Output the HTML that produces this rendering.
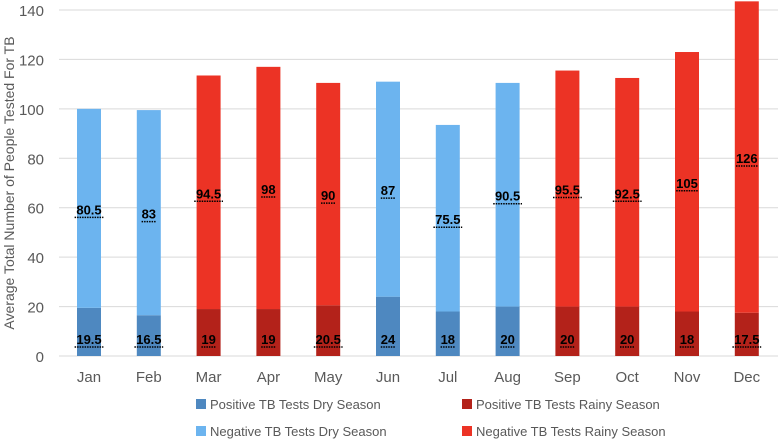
<!DOCTYPE html>
<html><head><meta charset="utf-8"><style>
body{margin:0;background:#fff;font-family:"Liberation Sans",sans-serif;}
svg text{font-family:"Liberation Sans",sans-serif;}
</style></head><body>
<svg id="chart" width="778" height="443"></svg>
<script>
const months=["Jan","Feb","Mar","Apr","May","Jun","Jul","Aug","Sep","Oct","Nov","Dec"];
const positive=[19.5,16.5,19,19,20.5,24,18,20,20,20,18,17.5];
const negative=[80.5,83,94.5,98,90,87,75.5,90.5,95.5,92.5,105,126];
const season=["dry","dry","rainy","rainy","rainy","dry","dry","dry","rainy","rainy","rainy","rainy"];
const yTicks=[0,20,40,60,80,100,120,140];
const NS="http://www.w3.org/2000/svg";
const svg=document.getElementById("chart");
const y0=356,yTop=10,yMax=140;
const y=v=>y0-(v/yMax)*(y0-yTop);
const x=i=>89+i*59.8;
const bw=24;
function el(t,a,p){const e=document.createElementNS(NS,t);for(const k in a)e.setAttribute(k,a[k]);(p||svg).appendChild(e);return e;}
yTicks.forEach(t=>{
 const g=el("line",{x1:59,x2:778,y1:y(t),y2:y(t),stroke:"#d9d9d9","stroke-width":1});
 
 
 const l=el("text",{x:44,y:y(t)+6,"text-anchor":"end","font-size":15,fill:"#595959"});
 l.textContent=t;
 
 
});
const yt=el("text",{transform:"translate(14,183) rotate(-90)","text-anchor":"middle","font-size":14,fill:"#595959"});
yt.textContent="Average Total Number of People Tested For TB";


const colors={dry:["#4e88c0","#6cb4ef"],rainy:["#b3221a","#ec3325"]};
months.forEach((m,i)=>{
 const c=colors[season[i]];
 const p=el("rect",{x:x(i)-bw/2,y:y(positive[i]),width:bw,height:y0-y(positive[i]),fill:c[0]});
 
 
 const tot=positive[i]+negative[i];
 const n=el("rect",{x:x(i)-bw/2,y:y(tot),width:bw,height:y(positive[i])-y(tot),fill:c[1]});
 
 
 [[positive[i],y0-12],[negative[i],y(positive[i]+negative[i]/2)+6]].forEach(([v,yy])=>{
  const t=el("text",{x:x(i),y:yy,"text-anchor":"middle","font-size":13,"font-weight":"bold",fill:"#000"});
  t.textContent=v;
  
  
  const w=String(v).length*7.2;
  const u=el("line",{x1:x(i)-w/2,x2:x(i)+w/2,y1:yy+3,y2:yy+3,stroke:"#000","stroke-width":1.5,"stroke-dasharray":"1.5,1"});
  
  
 });
 const ml=el("text",{x:x(i),y:382,"text-anchor":"middle","font-size":15,fill:"#595959"});
 ml.textContent=m;
 
 
});
const legend=[["Positive TB Tests  Dry Season","#4e88c0",196,409],["Positive TB Tests  Rainy Season","#b3221a",462,409],["Negative TB Tests Dry Season","#6cb4ef",196,436],["Negative TB Tests Rainy Season","#ec3325",462,436]];
legend.forEach(([t,c,lx,ly])=>{
 const r=el("rect",{x:lx,y:ly-10,width:10,height:10,fill:c});
 
 
 const tx=el("text",{x:lx+14,y:ly,"font-size":13,fill:"#595959"});
 tx.textContent=t;
 
 
});
</script>
</body></html>
